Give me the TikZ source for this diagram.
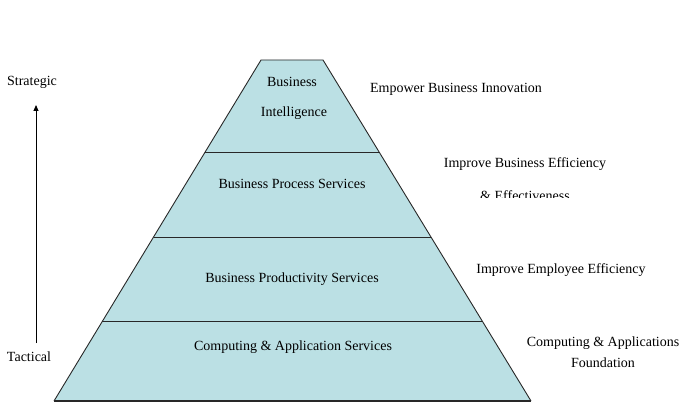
\documentclass[tikz,border=0pt]{standalone}
\usepackage{fontspec}
\setmainfont{Liberation Serif}
\usetikzlibrary{calc,arrows.meta}
\definecolor{pyrfill}{RGB}{187,224,228}
\definecolor{pyrline}{RGB}{40,40,40}
\tikzset{
  lbl/.style={inner sep=0pt, font=\fontsize{14}{16}\selectfont},
  edge/.style={draw=pyrline, line width=0.9pt},
}
\begin{document}
\begin{tikzpicture}[x=1pt,y=-1pt]
\useasboundingbox (0,0) rectangle (687,403);
% pyramid corners
\coordinate (TL) at (261,60);
\coordinate (TR) at (323,60);
\coordinate (BL) at (54,401);
\coordinate (BR) at (531,401);
\fill[pyrfill] (TL) -- (TR) -- (BR) -- (BL) -- cycle;
\draw[edge] (BL) -- (TL) -- (TR) -- (BR);
\draw[draw=pyrline, line width=1.6pt] (BL) -- (BR);
% dividers
\coordinate (L1) at ($(TL)!0.270!(BL)$);
\coordinate (R1) at ($(TR)!0.270!(BR)$);
\coordinate (L2) at ($(TL)!0.519!(BL)$);
\coordinate (R2) at ($(TR)!0.519!(BR)$);
\coordinate (L3) at ($(TL)!0.768!(BL)$);
\coordinate (R3) at ($(TR)!0.768!(BR)$);
\draw[edge] (L1) -- (R1);
\draw[edge] (L2) -- (R2);
\draw[edge] (L3) -- (R3);
% level labels
\node[lbl] (bi1) at (292,81.5) {Business};
\node[lbl] (bi2) at (294,113.5) {Intelligence};
\node[lbl] (bps) at (292,183.5) {Business Process Services};
\node[lbl] (bprod) at (292,279.5) {Business Productivity Services};
\node[lbl] (cas) at (293,347.5) {Computing \& Application Services};
% right labels
\node[lbl] (ebi) at (456,89.5) {Empower Business Innovation};
\node[lbl] (ibe) at (525,164.5) {Improve Business Efficiency};
\begin{scope}
\clip (430,180) rectangle (640,198);
\node[lbl] (eff) at (525,196) {\& Effectiveness};
\end{scope}
\node[lbl] (iee) at (561,270.5) {Improve Employee Efficiency};
\node[lbl] (caf1) at (603,343.5) {Computing \& Applications};
\node[lbl] (caf2) at (603,362.5) {Foundation};
% left axis
\node[lbl] (strat) at (32,82.5) {Strategic};
\node[lbl] (tact) at (29,356.5) {Tactical};
\coordinate (abot) at (36,343);
\coordinate (atop) at (36,105);
\draw[line width=0.9pt, -{Triangle[length=6pt,width=5pt]}] (abot) -- (atop);
\end{tikzpicture}
\end{document}
